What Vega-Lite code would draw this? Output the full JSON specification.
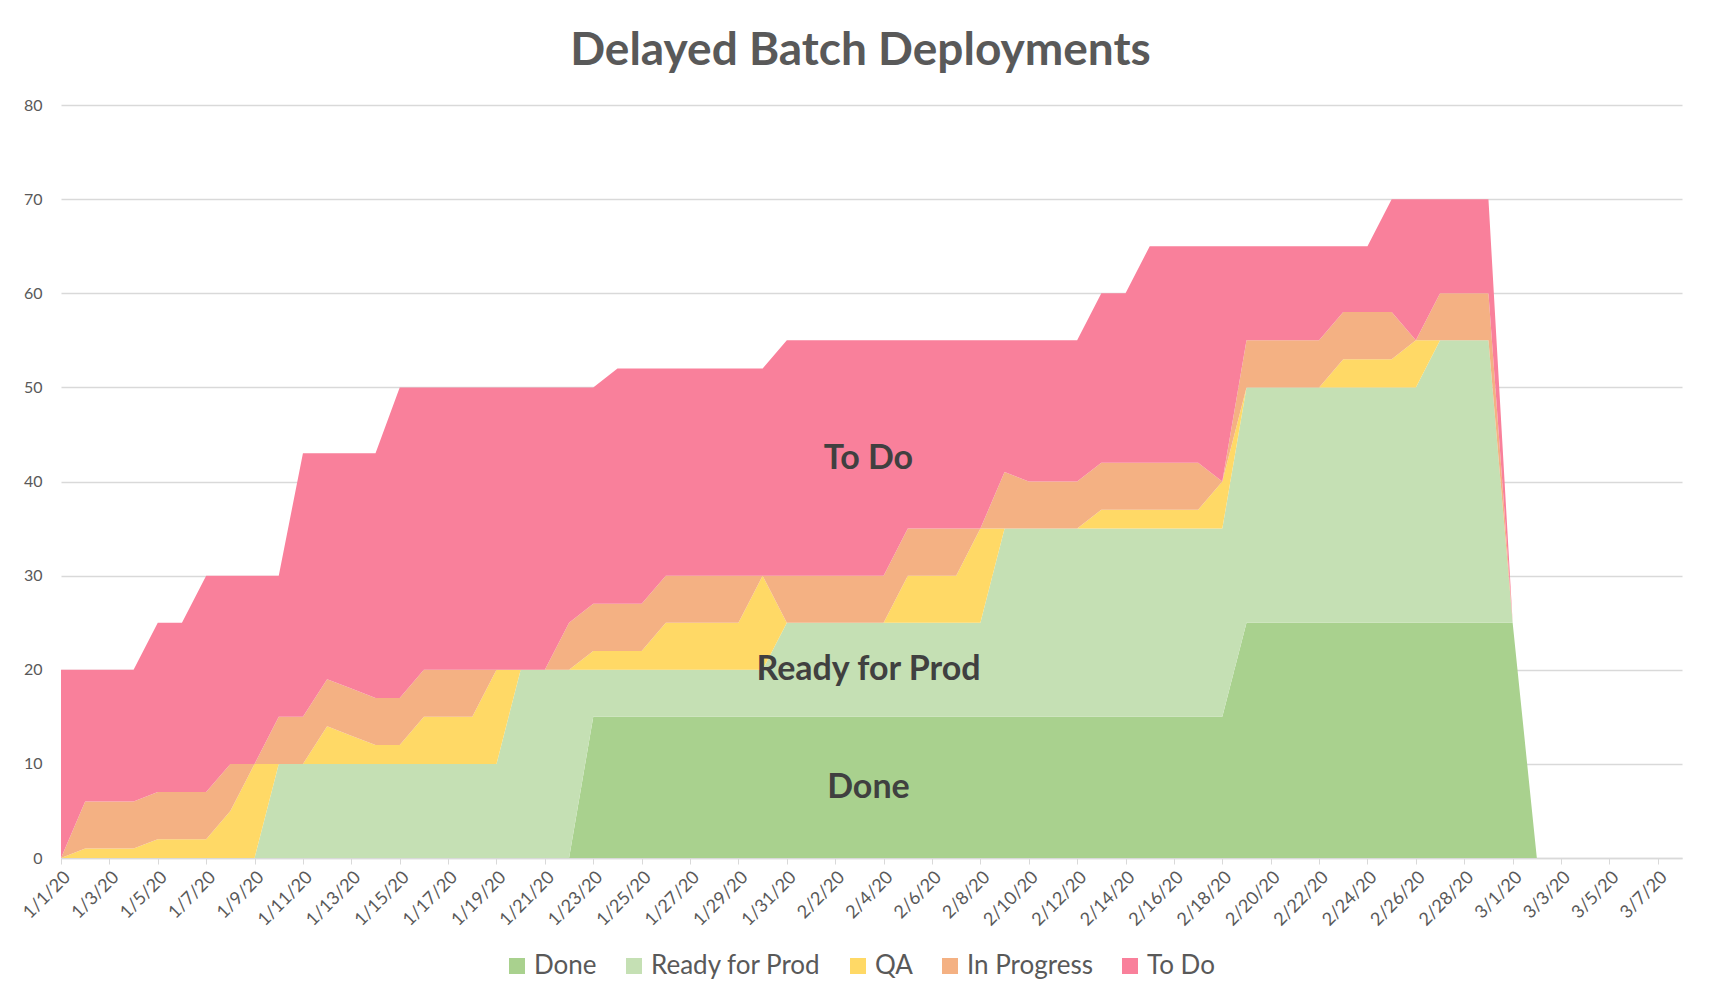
{
  "$schema": "https://vega.github.io/schema/vega-lite/v6.json",
  "width": 1621,
  "height": 753,
  "autosize": {"type": "none"},
  "padding": {"left": 61, "top": 105, "right": 38, "bottom": 146},
  "background": "white",
  "config": {"font": "Lato", "view": {"stroke": null}},
  "title": {
    "text": "Delayed Batch Deployments",
    "fontSize": 46,
    "fontWeight": "bold",
    "font": "Lato",
    "color": "#595959",
    "anchor": "middle",
    "frame": "group",
    "offset": 22,
    "dx": -11
  },
  "layer": [
    {
      "data": {
        "values": [
          {"date": "2020/01/01", "Done": 0, "Ready for Prod": 0, "QA": 0, "In Progress": 0, "To Do": 20},
          {"date": "2020/01/02", "Done": 0, "Ready for Prod": 0, "QA": 1, "In Progress": 5, "To Do": 14},
          {"date": "2020/01/03", "Done": 0, "Ready for Prod": 0, "QA": 1, "In Progress": 5, "To Do": 14},
          {"date": "2020/01/04", "Done": 0, "Ready for Prod": 0, "QA": 1, "In Progress": 5, "To Do": 14},
          {"date": "2020/01/05", "Done": 0, "Ready for Prod": 0, "QA": 2, "In Progress": 5, "To Do": 18},
          {"date": "2020/01/06", "Done": 0, "Ready for Prod": 0, "QA": 2, "In Progress": 5, "To Do": 18},
          {"date": "2020/01/07", "Done": 0, "Ready for Prod": 0, "QA": 2, "In Progress": 5, "To Do": 23},
          {"date": "2020/01/08", "Done": 0, "Ready for Prod": 0, "QA": 5, "In Progress": 5, "To Do": 20},
          {"date": "2020/01/09", "Done": 0, "Ready for Prod": 0, "QA": 10, "In Progress": 0, "To Do": 20},
          {"date": "2020/01/10", "Done": 0, "Ready for Prod": 10, "QA": 0, "In Progress": 5, "To Do": 15},
          {"date": "2020/01/11", "Done": 0, "Ready for Prod": 10, "QA": 0, "In Progress": 5, "To Do": 28},
          {"date": "2020/01/12", "Done": 0, "Ready for Prod": 10, "QA": 4, "In Progress": 5, "To Do": 24},
          {"date": "2020/01/13", "Done": 0, "Ready for Prod": 10, "QA": 3, "In Progress": 5, "To Do": 25},
          {"date": "2020/01/14", "Done": 0, "Ready for Prod": 10, "QA": 2, "In Progress": 5, "To Do": 26},
          {"date": "2020/01/15", "Done": 0, "Ready for Prod": 10, "QA": 2, "In Progress": 5, "To Do": 33},
          {"date": "2020/01/16", "Done": 0, "Ready for Prod": 10, "QA": 5, "In Progress": 5, "To Do": 30},
          {"date": "2020/01/17", "Done": 0, "Ready for Prod": 10, "QA": 5, "In Progress": 5, "To Do": 30},
          {"date": "2020/01/18", "Done": 0, "Ready for Prod": 10, "QA": 5, "In Progress": 5, "To Do": 30},
          {"date": "2020/01/19", "Done": 0, "Ready for Prod": 10, "QA": 10, "In Progress": 0, "To Do": 30},
          {"date": "2020/01/20", "Done": 0, "Ready for Prod": 20, "QA": 0, "In Progress": 0, "To Do": 30},
          {"date": "2020/01/21", "Done": 0, "Ready for Prod": 20, "QA": 0, "In Progress": 0, "To Do": 30},
          {"date": "2020/01/22", "Done": 0, "Ready for Prod": 20, "QA": 0, "In Progress": 5, "To Do": 25},
          {"date": "2020/01/23", "Done": 15, "Ready for Prod": 5, "QA": 2, "In Progress": 5, "To Do": 23},
          {"date": "2020/01/24", "Done": 15, "Ready for Prod": 5, "QA": 2, "In Progress": 5, "To Do": 25},
          {"date": "2020/01/25", "Done": 15, "Ready for Prod": 5, "QA": 2, "In Progress": 5, "To Do": 25},
          {"date": "2020/01/26", "Done": 15, "Ready for Prod": 5, "QA": 5, "In Progress": 5, "To Do": 22},
          {"date": "2020/01/27", "Done": 15, "Ready for Prod": 5, "QA": 5, "In Progress": 5, "To Do": 22},
          {"date": "2020/01/28", "Done": 15, "Ready for Prod": 5, "QA": 5, "In Progress": 5, "To Do": 22},
          {"date": "2020/01/29", "Done": 15, "Ready for Prod": 5, "QA": 5, "In Progress": 5, "To Do": 22},
          {"date": "2020/01/30", "Done": 15, "Ready for Prod": 5, "QA": 10, "In Progress": 0, "To Do": 22},
          {"date": "2020/01/31", "Done": 15, "Ready for Prod": 10, "QA": 0, "In Progress": 5, "To Do": 25},
          {"date": "2020/02/01", "Done": 15, "Ready for Prod": 10, "QA": 0, "In Progress": 5, "To Do": 25},
          {"date": "2020/02/02", "Done": 15, "Ready for Prod": 10, "QA": 0, "In Progress": 5, "To Do": 25},
          {"date": "2020/02/03", "Done": 15, "Ready for Prod": 10, "QA": 0, "In Progress": 5, "To Do": 25},
          {"date": "2020/02/04", "Done": 15, "Ready for Prod": 10, "QA": 0, "In Progress": 5, "To Do": 25},
          {"date": "2020/02/05", "Done": 15, "Ready for Prod": 10, "QA": 5, "In Progress": 5, "To Do": 20},
          {"date": "2020/02/06", "Done": 15, "Ready for Prod": 10, "QA": 5, "In Progress": 5, "To Do": 20},
          {"date": "2020/02/07", "Done": 15, "Ready for Prod": 10, "QA": 5, "In Progress": 5, "To Do": 20},
          {"date": "2020/02/08", "Done": 15, "Ready for Prod": 10, "QA": 10, "In Progress": 0, "To Do": 20},
          {"date": "2020/02/09", "Done": 15, "Ready for Prod": 20, "QA": 0, "In Progress": 6, "To Do": 14},
          {"date": "2020/02/10", "Done": 15, "Ready for Prod": 20, "QA": 0, "In Progress": 5, "To Do": 15},
          {"date": "2020/02/11", "Done": 15, "Ready for Prod": 20, "QA": 0, "In Progress": 5, "To Do": 15},
          {"date": "2020/02/12", "Done": 15, "Ready for Prod": 20, "QA": 0, "In Progress": 5, "To Do": 15},
          {"date": "2020/02/13", "Done": 15, "Ready for Prod": 20, "QA": 2, "In Progress": 5, "To Do": 18},
          {"date": "2020/02/14", "Done": 15, "Ready for Prod": 20, "QA": 2, "In Progress": 5, "To Do": 18},
          {"date": "2020/02/15", "Done": 15, "Ready for Prod": 20, "QA": 2, "In Progress": 5, "To Do": 23},
          {"date": "2020/02/16", "Done": 15, "Ready for Prod": 20, "QA": 2, "In Progress": 5, "To Do": 23},
          {"date": "2020/02/17", "Done": 15, "Ready for Prod": 20, "QA": 2, "In Progress": 5, "To Do": 23},
          {"date": "2020/02/18", "Done": 15, "Ready for Prod": 20, "QA": 5, "In Progress": 0, "To Do": 25},
          {"date": "2020/02/19", "Done": 25, "Ready for Prod": 25, "QA": 0, "In Progress": 5, "To Do": 10},
          {"date": "2020/02/20", "Done": 25, "Ready for Prod": 25, "QA": 0, "In Progress": 5, "To Do": 10},
          {"date": "2020/02/21", "Done": 25, "Ready for Prod": 25, "QA": 0, "In Progress": 5, "To Do": 10},
          {"date": "2020/02/22", "Done": 25, "Ready for Prod": 25, "QA": 0, "In Progress": 5, "To Do": 10},
          {"date": "2020/02/23", "Done": 25, "Ready for Prod": 25, "QA": 3, "In Progress": 5, "To Do": 7},
          {"date": "2020/02/24", "Done": 25, "Ready for Prod": 25, "QA": 3, "In Progress": 5, "To Do": 7},
          {"date": "2020/02/25", "Done": 25, "Ready for Prod": 25, "QA": 3, "In Progress": 5, "To Do": 12},
          {"date": "2020/02/26", "Done": 25, "Ready for Prod": 25, "QA": 5, "In Progress": 0, "To Do": 15},
          {"date": "2020/02/27", "Done": 25, "Ready for Prod": 30, "QA": 0, "In Progress": 5, "To Do": 10},
          {"date": "2020/02/28", "Done": 25, "Ready for Prod": 30, "QA": 0, "In Progress": 5, "To Do": 10},
          {"date": "2020/02/29", "Done": 25, "Ready for Prod": 30, "QA": 0, "In Progress": 5, "To Do": 10},
          {"date": "2020/03/01", "Done": 25, "Ready for Prod": 0, "QA": 0, "In Progress": 0, "To Do": 0},
          {"date": "2020/03/02", "Done": 0, "Ready for Prod": 0, "QA": 0, "In Progress": 0, "To Do": 0},
          {"date": "2020/03/03", "Done": 0, "Ready for Prod": 0, "QA": 0, "In Progress": 0, "To Do": 0},
          {"date": "2020/03/04", "Done": 0, "Ready for Prod": 0, "QA": 0, "In Progress": 0, "To Do": 0},
          {"date": "2020/03/05", "Done": 0, "Ready for Prod": 0, "QA": 0, "In Progress": 0, "To Do": 0},
          {"date": "2020/03/06", "Done": 0, "Ready for Prod": 0, "QA": 0, "In Progress": 0, "To Do": 0},
          {"date": "2020/03/07", "Done": 0, "Ready for Prod": 0, "QA": 0, "In Progress": 0, "To Do": 0},
          {"date": "2020/03/08", "Done": 0, "Ready for Prod": 0, "QA": 0, "In Progress": 0, "To Do": 0}
        ]
      },
      "transform": [
        {"fold": ["Done", "Ready for Prod", "QA", "In Progress", "To Do"], "as": ["series", "count"]},
        {"calculate": "indexof(['Done','Ready for Prod','QA','In Progress','To Do'], datum.series)", "as": "ord"}
      ],
      "mark": {"type": "area", "interpolate": "linear", "opacity": 1},
      "encoding": {
        "x": {
          "field": "date",
          "type": "temporal",
          "scale": {
            "domain": [{"year": 2020, "month": 1, "date": 1}, {"year": 2020, "month": 3, "date": 8}],
            "nice": false
          },
          "axis": {
            "title": null,
            "values": [
              {"year": 2020, "month": 1, "date": 1}, {"year": 2020, "month": 1, "date": 3}, {"year": 2020, "month": 1, "date": 5},
              {"year": 2020, "month": 1, "date": 7}, {"year": 2020, "month": 1, "date": 9}, {"year": 2020, "month": 1, "date": 11},
              {"year": 2020, "month": 1, "date": 13}, {"year": 2020, "month": 1, "date": 15}, {"year": 2020, "month": 1, "date": 17},
              {"year": 2020, "month": 1, "date": 19}, {"year": 2020, "month": 1, "date": 21}, {"year": 2020, "month": 1, "date": 23},
              {"year": 2020, "month": 1, "date": 25}, {"year": 2020, "month": 1, "date": 27}, {"year": 2020, "month": 1, "date": 29},
              {"year": 2020, "month": 1, "date": 31}, {"year": 2020, "month": 2, "date": 2}, {"year": 2020, "month": 2, "date": 4},
              {"year": 2020, "month": 2, "date": 6}, {"year": 2020, "month": 2, "date": 8}, {"year": 2020, "month": 2, "date": 10},
              {"year": 2020, "month": 2, "date": 12}, {"year": 2020, "month": 2, "date": 14}, {"year": 2020, "month": 2, "date": 16},
              {"year": 2020, "month": 2, "date": 18}, {"year": 2020, "month": 2, "date": 20}, {"year": 2020, "month": 2, "date": 22},
              {"year": 2020, "month": 2, "date": 24}, {"year": 2020, "month": 2, "date": 26}, {"year": 2020, "month": 2, "date": 28},
              {"year": 2020, "month": 3, "date": 1}, {"year": 2020, "month": 3, "date": 3}, {"year": 2020, "month": 3, "date": 5},
              {"year": 2020, "month": 3, "date": 7}
            ],
            "format": "%-m/%-d/%y",
            "labelAngle": -45,
            "labelFontSize": 18,
            "labelColor": "#595959",
            "labelFont": "Lato",
            "grid": false,
            "domainColor": "#D9D9D9",
            "domainWidth": 1.5,
            "tickColor": "#D9D9D9",
            "tickSize": 6,
            "labelPadding": 4,
            "labelOverlap": false,
            "labelFlush": false,
            "labelBound": false
          }
        },
        "y": {
          "field": "count",
          "type": "quantitative",
          "stack": "zero",
          "scale": {"domain": [0, 80], "nice": false},
          "axis": {
            "title": null,
            "values": [0, 10, 20, 30, 40, 50, 60, 70, 80],
            "grid": true,
            "gridColor": "#D9D9D9",
            "gridWidth": 1.3,
            "domain": false,
            "ticks": false,
            "labelPadding": 19,
            "labelFontSize": 16,
            "labelColor": "#595959",
            "labelFont": "Lato"
          }
        },
        "color": {
          "field": "series",
          "type": "nominal",
          "scale": {
            "domain": ["Done", "Ready for Prod", "QA", "In Progress", "To Do"],
            "range": ["#A9D18E", "#C5E0B4", "#FFD966", "#F4B183", "#F9809B"]
          },
          "legend": {
            "orient": "none",
            "legendX": 443,
            "legendY": 848,
            "direction": "horizontal",
            "title": null,
            "symbolType": "square",
            "symbolSize": 256,
            "symbolStrokeWidth": 0,
            "symbolOpacity": 1,
            "labelFontSize": 26,
            "labelColor": "#595959",
            "labelFont": "Lato",
            "labelOffset": 4,
            "labelLimit": 0,
            "columnPadding": 24,
            "padding": 0
          }
        },
        "order": {"field": "ord", "type": "quantitative"}
      }
    },
    {
      "data": {
        "values": [
          {"label": "To Do", "date": "2020/02/03 09:00", "v": 42.4},
          {"label": "Ready for Prod", "date": "2020/02/03 09:00", "v": 20},
          {"label": "Done", "date": "2020/02/03 09:00", "v": 7.4}
        ]
      },
      "mark": {"type": "text", "font": "Lato", "fontWeight": "bold", "fontSize": 34, "color": "#404040", "align": "center", "baseline": "middle"},
      "encoding": {
        "x": {"field": "date", "type": "temporal"},
        "y": {"field": "v", "type": "quantitative"},
        "text": {"field": "label"}
      }
    }
  ]
}
